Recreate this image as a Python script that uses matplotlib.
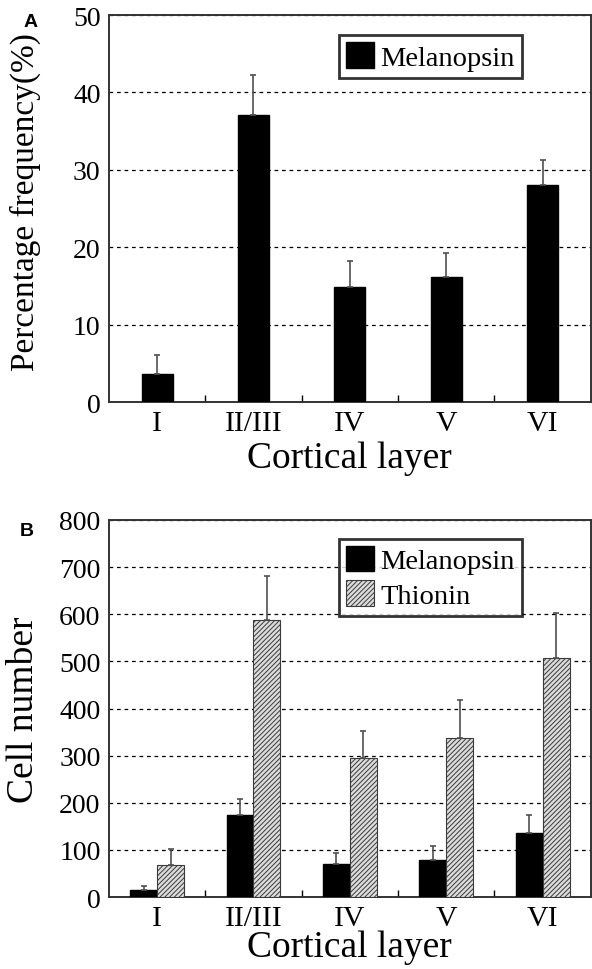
import numpy as np
import matplotlib
matplotlib.use("Agg")
import matplotlib.pyplot as plt
from matplotlib.ticker import FixedLocator

plt.rcParams['font.family'] = ['Liberation Serif', 'DejaVu Serif']
plt.rcParams['hatch.linewidth'] = 0.7

layers = ["I", "II/III", "IV", "V", "VI"]

# Panel A: percentage frequency of melanopsin cells
pct_mean = [3.6, 37.1, 14.9, 16.2, 28.1]
pct_err = [2.5, 5.1, 3.3, 3.0, 3.2]

# Panel B: cell numbers
mel_mean = [15, 174, 70, 79, 135]
mel_err = [8, 35, 24, 29, 39]
thi_mean = [67, 587, 294, 338, 508]
thi_err = [34, 95, 58, 80, 94]

fig = plt.figure(figsize=(5.92, 9.70), dpi=100)
axA = fig.add_axes([0.184, 0.5845, 0.814, 0.399])
axB = fig.add_axes([0.184, 0.0742, 0.814, 0.3887])

x = np.arange(len(layers))
err_kw = dict(ecolor="#505050", elinewidth=1.2, capsize=2.5, capthick=1.2)


def style_axis(ax, ymax, step, xpad):
    ax.set_xlim(-0.5, 4.5)
    ax.set_ylim(0, ymax)
    ax.set_yticks(np.arange(0, ymax + 1, step))
    ax.set_xticks(x)
    ax.set_xticklabels(layers)
    ax.xaxis.set_minor_locator(FixedLocator(x[:-1] + 0.5))
    ax.tick_params(axis="x", which="major", length=0, labelsize=21.5, pad=6)
    ax.tick_params(axis="x", which="minor", direction="in", length=5, width=1)
    ax.tick_params(axis="y", length=0, labelsize=20, pad=6)
    ax.yaxis.grid(True, linestyle=(0, (3, 3)), color="black", linewidth=0.9)
    ax.set_axisbelow(True)
    for s in ax.spines.values():
        s.set_linewidth(1.4)
        s.set_color("#333333")
    ax.set_xlabel("Cortical layer", fontsize=27, labelpad=xpad)


leg_kw = dict(loc="upper left", fontsize=20.5, frameon=True, fancybox=False,
              edgecolor="black", handlelength=1.0, handleheight=1.0,
              handletextpad=0.2, borderpad=0.25, borderaxespad=0, labelspacing=0.2)

# ---- Panel A ----
axA.bar(x, pct_mean, width=0.32, color="black", edgecolor="black",
        yerr=[np.zeros(5), pct_err], error_kw=err_kw, label="Melanopsin", zorder=3)
style_axis(axA, 50, 10, 3)
axA.set_ylabel("Percentage frequency(%)", fontsize=24)
axA.yaxis.set_label_coords(-0.14, 0.52)
legA = axA.legend(bbox_to_anchor=(0.477, 0.948), **leg_kw)
legA.get_frame().set_linewidth(2)
fig.text(0.04, 0.9765, "A", fontsize=14, fontweight="bold",
         family="Liberation Sans", ha="left", va="center")

# ---- Panel B ----
w = 0.28
axB.bar(x - w / 2, mel_mean, width=w, color="black", edgecolor="black",
        yerr=[np.zeros(5), mel_err], error_kw=err_kw, label="Melanopsin", zorder=3)
axB.bar(x + w / 2, thi_mean, width=w, color="#dcdcdc", edgecolor="#3a3a3a",
        hatch="///////", linewidth=0.8,
        yerr=[np.zeros(5), thi_err], error_kw=err_kw, label="Thionin", zorder=3)
style_axis(axB, 800, 100, -1)
axB.set_ylabel("Cell number", fontsize=27)
axB.yaxis.set_label_coords(-0.14, 0.5)
legB = axB.legend(bbox_to_anchor=(0.477, 0.95), **leg_kw)
legB.get_frame().set_linewidth(2)
fig.text(0.034, 0.4525, "B", fontsize=14, fontweight="bold",
         family="Liberation Sans", ha="left", va="center")

fig.savefig("out.png", dpi=100)
